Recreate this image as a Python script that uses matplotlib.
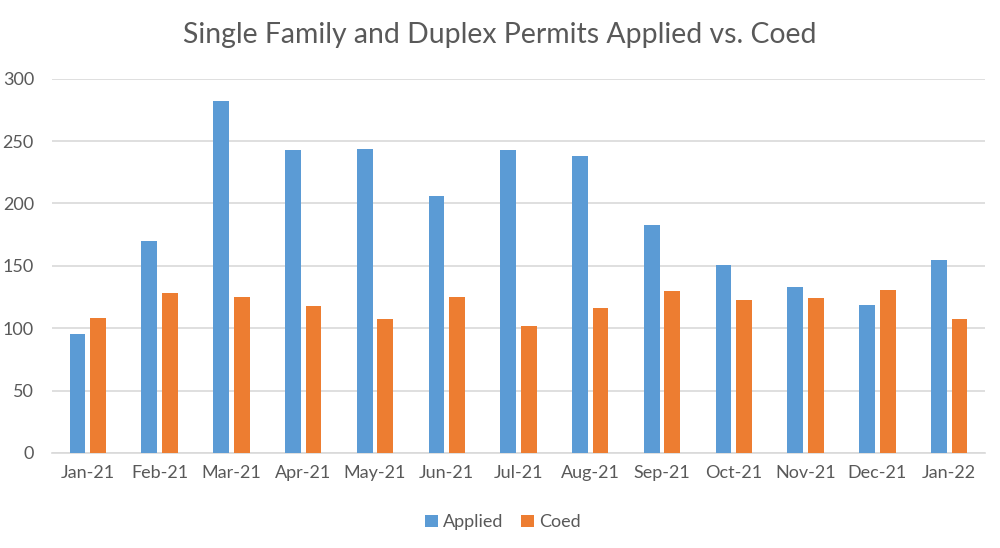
import matplotlib
matplotlib.use("Agg")
import matplotlib.pyplot as plt
import numpy as np

months = ["Jan-21", "Feb-21", "Mar-21", "Apr-21", "May-21", "Jun-21", "Jul-21",
          "Aug-21", "Sep-21", "Oct-21", "Nov-21", "Dec-21", "Jan-22"]
applied = [95, 170, 282, 243, 244, 206, 243, 238, 183, 151, 133, 119, 155]
coed = [108, 128, 125, 118, 107, 125, 102, 116, 130, 123, 124, 131, 107]

plt.rcParams['font.family'] = ['Lato', 'DejaVu Sans']
txt = '#595959'

fig = plt.figure(figsize=(10, 5.48), dpi=100)
ax = fig.add_axes([0.052, 0.1734, 0.933, 0.683])

x = np.arange(len(months))
w = 0.22
ax.bar(x - 0.144, applied, w, color='#5B9BD5', label='Applied', zorder=3)
ax.bar(x + 0.144, coed, w, color='#ED7D31', label='Coed', zorder=3)

ax.set_xlim(-0.5, len(months) - 0.5)
ax.set_ylim(0, 300)
ax.set_yticks(range(0, 301, 50))
ax.set_xticks(x)
ax.set_xticklabels(months)
ax.grid(axis='y', color='#D9D9D9', linewidth=1.2, zorder=0)
for s in ['top', 'right', 'left']:
    ax.spines[s].set_visible(False)
ax.spines['bottom'].set_color('#D9D9D9')
ax.spines['bottom'].set_linewidth(1.2)
ax.tick_params(axis='both', length=0, colors=txt, labelsize=13)
ax.tick_params(axis='x', pad=9)
ax.tick_params(axis='y', pad=13)

fig.text(0.5, 0.936, 'Single Family and Duplex Permits Applied vs. Coed',
         ha='center', va='center', fontsize=20.4, color=txt)

fig.legend(loc='center', bbox_to_anchor=(0.503, 0.047), ncol=2, frameon=False,
           fontsize=13, labelcolor=txt, handlelength=0.7, handleheight=0.7,
           columnspacing=1.0, handletextpad=0.3)

fig.savefig('out.png', dpi=100)
